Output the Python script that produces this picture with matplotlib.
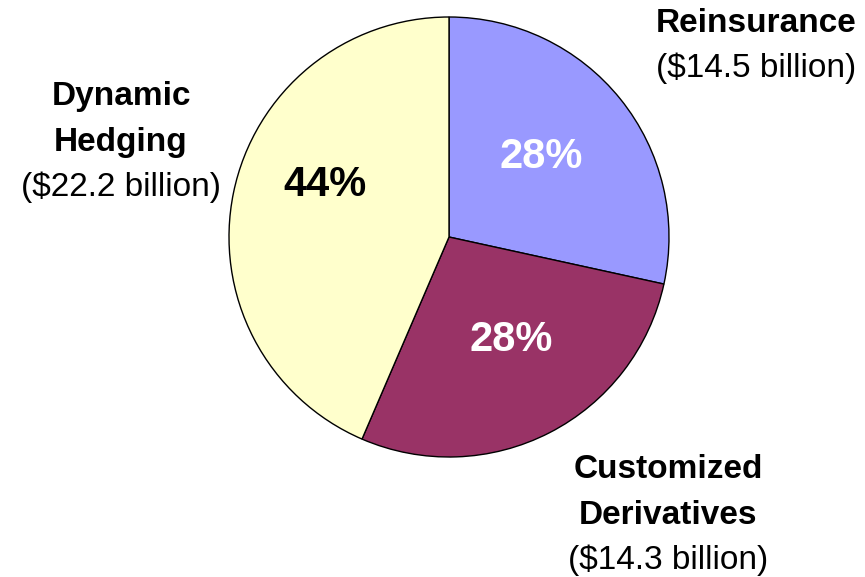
import matplotlib.pyplot as plt

plt.rcParams["font.family"] = ["Liberation Sans", "DejaVu Sans"]

# ----- Data -----
names = ["Reinsurance", "Customized\nDerivatives", "Dynamic\nHedging"]
amounts = [14.5, 14.3, 22.2]          # $ billion
colors = ["#9999FF", "#993366", "#FFFFCC"]
pct_colors = ["white", "white", "black"]

# Work in pixel units: 1 data unit = 1 pixel, y measured upward
W, H = 865, 577
fig = plt.figure(figsize=(W / 100, H / 100), dpi=100)
ax = fig.add_axes([0, 0, 1, 1])

wedges, _, pct_texts = ax.pie(
    amounts, colors=colors, startangle=90, counterclock=False,
    center=(449, H - 237), radius=220, frame=True,
    wedgeprops=dict(edgecolor="black", linewidth=1.0),
    autopct="%.0f%%", pctdistance=0.57,
    textprops=dict(fontsize=30, fontweight="bold"),
)
for t, c in zip(pct_texts, pct_colors):
    t.set_color(c)

# percentage labels nudged to where they sit in each slice
pct_pos = [(541, 157), (511, 340), (325, 185)]
for t, (px, py) in zip(pct_texts, pct_pos):
    t.set_position((px, H - py))

# category labels outside the pie: bold name lines, then the amount
label_pos = [(756, 23), (668, 470), (121, 97)]
step = 45
for name, amt, (lx, ly) in zip(names, amounts, label_pos):
    lines = name.split("\n")
    for i, line in enumerate(lines):
        ax.text(lx, H - ly - i * step, line, ha="center", va="center",
                fontsize=24, fontweight="bold")
    ax.text(lx, H - ly - len(lines) * step, f"(${amt} billion)",
            ha="center", va="center", fontsize=24)

ax.set_xlim(0, W)
ax.set_ylim(0, H)
ax.set_aspect("equal")
ax.axis("off")

fig.savefig("out.png", dpi=100)
